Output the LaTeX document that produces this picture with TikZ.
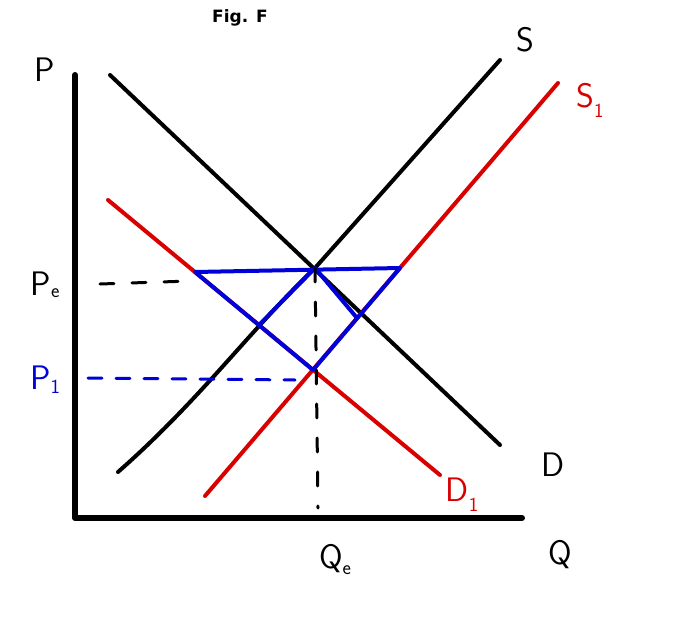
\documentclass[tikz,border=0pt]{standalone}
\usepackage{fontspec}
\setmainfont{DejaVu Sans}
\begin{document}
\begin{tikzpicture}[x=1pt,y=-1pt,
  pen/.style={line width=4pt,line cap=round,line join=round},
  lbl/.style={font=\fontsize{34}{34}\selectfont\sffamily},
  blk/.style={pen,black},
  red/.style={pen,color=red!85!black},
  blu/.style={pen,color=blue!85!black}]
\useasboundingbox (0,0) rectangle (688,634);
\node[font=\bfseries\fontsize{17}{17}\selectfont] (t) at (240,18) {Fig. F};
% axes
\coordinate (o) at (75,518);
\coordinate (ya) at (75,75);
\coordinate (xa) at (522,518);
\draw[blk,line width=6pt] (ya) -- (o) -- (xa);
% curves
\coordinate (s0) at (118,472); \coordinate (e) at (315,268); \coordinate (s1) at (500,60);
\draw[blk] (s0) .. controls (200,400) and (250,330) .. (e) -- (s1);
\coordinate (d0) at (110,75); \coordinate (d1) at (500,445);
\draw[blk] (d0) -- (d1);
\coordinate (r0) at (205,496); \coordinate (r1) at (558,83);
\draw[red] (r0) -- (r1);
\coordinate (q0) at (108,200); \coordinate (q1) at (440,475);
\draw[red] (q0) -- (q1);
% blue
\coordinate (b1) at (195,272); \coordinate (b2) at (400,268); \coordinate (b3) at (313,370);
\coordinate (bl) at (259,325); \coordinate (br) at (357,318);
\draw[blu] (b1) -- (b2) -- (b3) -- cycle;
\draw[blu] (bl) -- (e) -- (br);
% dashed
\coordinate (pe0) at (100,284); \coordinate (pe1) at (190,281);
\draw[blk,line width=3pt,dash pattern=on 14pt off 18pt] (pe0) -- (pe1);
\coordinate (qe1) at (318,508);
\draw[blk,line width=3pt,dash pattern=on 14pt off 20pt] (e) -- (qe1);
\coordinate (p10) at (88,378); \coordinate (p11) at (295,380);
\draw[blu,line width=3pt,dash pattern=on 14pt off 14pt] (p10) -- (p11);
% labels
\node[lbl] (lp) at (45,70) {P};
\node[lbl] (lpe) at (45,285) {P\raisebox{-2pt}{\fontsize{20}{20}\selectfont e}};
\node[lbl,text=blue!85!black] (lp1) at (45,380) {P\raisebox{-4pt}{\fontsize{20}{20}\selectfont 1}};
\node[lbl] (lqe) at (335,560) {Q\raisebox{-6pt}{\fontsize{20}{20}\selectfont e}};
\node[lbl] (lq) at (560,555) {Q};
\node[lbl] (ls) at (525,40) {S};
\node[lbl,text=red!85!black] (ls1) at (590,100) {S\raisebox{-10pt}{\fontsize{20}{20}\selectfont 1}};
\node[lbl] (ld) at (553,465) {D};
\node[lbl,text=red!85!black] (ld1) at (462,495) {D\raisebox{-10pt}{\fontsize{20}{20}\selectfont 1}};
\end{tikzpicture}
\end{document}
